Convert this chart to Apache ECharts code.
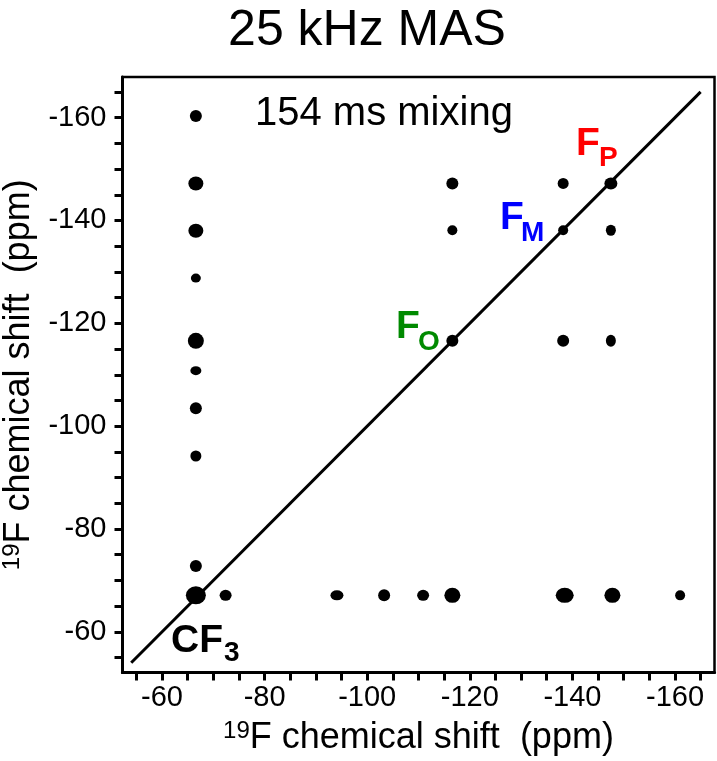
<!DOCTYPE html>
<html><head><meta charset="utf-8">
<script src="https://cdn.jsdelivr.net/npm/echarts@6/dist/echarts.min.js"></script>
<style>html,body{margin:0;padding:0;background:#fff}#c{width:717px;height:761px}</style>
</head><body><div id="c"></div>
<script>
// ---- data ----
const tickValues = [-55,-60,-65,-70,-75,-80,-85,-90,-95,-100,-105,-110,-115,-120,-125,-130,-135,-140,-145,-150,-155,-160,-165];
const tickLabels = [-60,-80,-100,-120,-140,-160];
// cross peaks (direct dim, indirect dim) in ppm
const peakX = [-66.6,-66.6,-66.6,-66.6,-66.6,-66.6,-66.6,-66.6,-66.6,-66.6,
               -72.4,-94.1,-103.3,-110.9,-116.6,-138.5,-147.8,-161.0,
               -116.6,-138.2,-147.5,-116.6,-138.2,-147.5,-116.6,-138.2,-147.5];
const peakY = [-160.3,-147.2,-138.0,-128.8,-116.6,-110.8,-103.5,-94.2,-72.8,-67.1,
               -67.1,-67.1,-67.1,-67.1,-67.1,-67.1,-67.1,-67.1,
               -147.2,-147.2,-147.2,-138.1,-138.1,-138.1,-116.6,-116.6,-116.6];
// drawn spot sizes (style)
const dotW = [12,15,15,10,16,11,12,11,12,20, 12,13,12,12,16,18,16,10, 12,11,13,10,10,10,12,12,10];
const dotH = [12,14,14,9,16,9,12,11,12,18, 11,10,12,11,15,15,15,10, 12,11,12,10,10,11,12,12,12];
const diagStart = [-54, -54];
const diagEnd = [-165, -165];

const FONT = '"Liberation Sans", Arial, sans-serif';
const points = peakX.map((x, i) => ({value: [x, peakY[i]], symbolSize: [dotW[i], dotH[i]]}));

const axisCommon = {
  type: 'value', inverse: true,
  axisLine: {show: true, onZero: false, lineStyle: {color: '#000', width: 3}},
  axisTick: {show: true, customValues: tickValues, length: 8, inside: false, lineStyle: {color: '#000', width: 3}},
  axisLabel: {customValues: tickLabels, fontSize: 29, color: '#000', fontFamily: FONT},
  splitLine: {show: false},
  name: '{sup|19}{main|F chemical shift  (ppm)}',
  nameLocation: 'middle',
  nameTextStyle: {
    rich: {
      sup: {fontSize: 24, fontFamily: FONT, color: '#000', verticalAlign: 'top', lineHeight: 24},
      main: {fontSize: 36, fontFamily: FONT, color: '#000', lineHeight: 38}
    }
  }
};

const chart = echarts.init(document.getElementById('c'), null, {renderer: 'canvas'});
chart.setOption({
  animation: false,
  backgroundColor: '#fff',
  grid: {left: 122.5, right: 2.5, top: 77, bottom: 88.5, containLabel: false, outerBoundsMode: 'none',
         show: true, borderColor: '#000', borderWidth: 2.5, backgroundColor: 'transparent'},
  xAxis: Object.assign({}, axisCommon, {
    min: -167.7, max: -52.3, position: 'bottom', nameGap: 47,
    axisLabel: Object.assign({}, axisCommon.axisLabel, {margin: 11})
  }),
  yAxis: Object.assign({}, axisCommon, {
    min: -167.9, max: -52.1, position: 'left', nameGap: 70,
    axisLabel: Object.assign({}, axisCommon.axisLabel, {margin: 16})
  }),
  series: [
    {type: 'line', data: [diagStart, diagEnd], symbol: 'none', lineStyle: {color: '#000', width: 3}, z: 2, silent: true},
    {type: 'scatter', data: points, symbol: 'circle', itemStyle: {color: '#000', opacity: 1}, z: 3, silent: true}
  ],
  graphic: [
    {type: 'text', x: 367, y: 31, style: {text: '25 kHz MAS', font: '50px ' + FONT, fill: '#000', align: 'center', verticalAlign: 'middle'}},
    {type: 'text', x: 255, y: 114, style: {text: '154 ms mixing', font: '40px ' + FONT, fill: '#000', align: 'left', verticalAlign: 'middle'}},
    {type: 'text', x: 576, y: 144, style: {text: 'F', font: 'bold 39px ' + FONT, fill: '#ff0000', align: 'left', verticalAlign: 'middle'}},
    {type: 'text', x: 599, y: 158, style: {text: 'P', font: 'bold 28px ' + FONT, fill: '#ff0000', align: 'left', verticalAlign: 'middle'}},
    {type: 'text', x: 500, y: 218, style: {text: 'F', font: 'bold 39px ' + FONT, fill: '#0000ff', align: 'left', verticalAlign: 'middle'}},
    {type: 'text', x: 521, y: 233, style: {text: 'M', font: 'bold 28px ' + FONT, fill: '#0000ff', align: 'left', verticalAlign: 'middle'}},
    {type: 'text', x: 396, y: 327.5, style: {text: 'F', font: 'bold 39px ' + FONT, fill: '#008a00', align: 'left', verticalAlign: 'middle'}},
    {type: 'text', x: 418, y: 342, style: {text: 'O', font: 'bold 28px ' + FONT, fill: '#008a00', align: 'left', verticalAlign: 'middle'}},
    {type: 'text', x: 171, y: 641, style: {text: 'CF', font: 'bold 39px ' + FONT, fill: '#000', align: 'left', verticalAlign: 'middle'}},
    {type: 'text', x: 224, y: 653, style: {text: '3', font: 'bold 28px ' + FONT, fill: '#000', align: 'left', verticalAlign: 'middle'}}
  ]
});
</script>
</body></html>
